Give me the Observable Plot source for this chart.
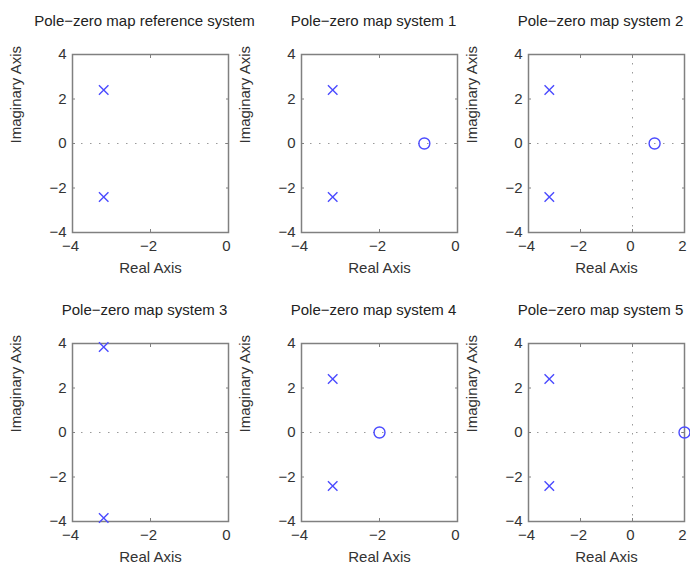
<!DOCTYPE html>
<html>
<head>
<meta charset="utf-8">
<script src="https://cdn.jsdelivr.net/npm/d3@7"></script>
<script src="https://cdn.jsdelivr.net/npm/@observablehq/plot@0.6"></script>
<style>
  body { margin: 0; background: #fff; }
  #wrap { position: relative; width: 690px; height: 567px; overflow: hidden; background: #fff; }
  #wrap svg { position: absolute; overflow: visible; background: transparent; }
</style>
</head>
<body>
<div id="wrap"></div>
<script>
// ---- data ----
const titles = [
  "Pole−zero map reference system",
  "Pole−zero map system 1",
  "Pole−zero map system 2",
  "Pole−zero map system 3",
  "Pole−zero map system 4",
  "Pole−zero map system 5"
];
const poleRe = [-3.2, -3.2, -3.2, -3.2, -3.2, -3.2];
const poleIm = [2.4, 2.4, 2.4, 3.84, 2.4, 2.4];   // conjugate pairs ±
const zeroRe = [null, -0.85, 0.85, null, -2, 2];
const xMin = [-4, -4, -4, -4, -4, -4];
const xMax = [0, 0, 2, 0, 0, 2];
const yTicks = [-4, -2, 0, 2, 4];
const xLabel = "Real Axis";
const yLabel = "Imaginary Axis";

// ---- layout ----
const colLeft = [0, 229, 456];
const colWidth = [230, 230, 234];
const rowTop = [0, 289];
const blue = "#4b4bff";
const gray = "#808080";
const font = "'Liberation Sans', Arial, Helvetica, sans-serif";
const fs = 15;

const wrap = document.getElementById("wrap");

titles.forEach((title, i) => {
  const col = i % 3, row = Math.floor(i / 3);
  const w = colWidth[col];
  const xTicks = d3.range(xMin[i], xMax[i] + 0.001, 2);
  const poles = [
    {re: poleRe[i], im: poleIm[i]},
    {re: poleRe[i], im: -poleIm[i]}
  ];
  const zeros = zeroRe[i] === null ? [] : [{re: zeroRe[i], im: 0}];
  const marks = [
    Plot.ruleY([0], {stroke: "#9a9a9a", strokeWidth: 1, strokeDasharray: "1.5,7.5"}),
    xMin[i] < 0 && xMax[i] > 0
      ? Plot.ruleX([0], {stroke: "#9a9a9a", strokeWidth: 1, strokeDasharray: "1.5,7.5"})
      : null,
    // inward tick marks on all four sides
    Plot.axisX(xTicks, {anchor: "bottom", tickSize: -3, text: null, stroke: gray, label: null}),
    Plot.axisX(xTicks, {anchor: "top", tickSize: -3, text: null, stroke: gray, label: null}),
    Plot.axisY(yTicks, {anchor: "left", tickSize: -3, text: null, stroke: gray, label: null}),
    Plot.axisY(yTicks, {anchor: "right", tickSize: -3, text: null, stroke: gray, label: null}),
    // tick labels
    Plot.axisX(xTicks, {anchor: "bottom", tickSize: 0, tickPadding: 8, dx: -2, fontSize: fs, fill: "#333", label: null}),
    Plot.axisY(yTicks, {anchor: "left", tickSize: 0, tickPadding: 6, fontSize: fs, fill: "#333", label: null}),
    Plot.frame({stroke: gray, strokeWidth: 1.5}),
    Plot.dot(poles, {x: "re", y: "im", symbol: "times", r: 4.4, stroke: blue, strokeWidth: 1.4}),
    Plot.dot(zeros, {x: "re", y: "im", symbol: "circle", r: 5.5, stroke: blue, strokeWidth: 1.4, fill: "none"}),
    Plot.text([title], {frameAnchor: "top", dy: -33, dx: -6, fontSize: fs, fill: "#222", lineAnchor: "middle"}),
    Plot.text([xLabel], {frameAnchor: "bottom", dy: 36, fontSize: fs, fill: "#333", lineAnchor: "middle"}),
    Plot.text([yLabel], {frameAnchor: "left", dx: -56, rotate: -90, fontSize: fs, fill: "#333", lineAnchor: "middle"})
  ].filter(Boolean);

  const svg = Plot.plot({
    width: w,
    height: 278,
    marginTop: 54,
    marginBottom: 46,
    marginLeft: 72,
    marginRight: w - 72 - 156,
    style: {fontFamily: font, fontSize: fs + "px", background: "transparent", overflow: "visible"},
    x: {domain: [xMin[i], xMax[i]]},
    y: {domain: [-4, 4]},
    marks
  });
  svg.style.left = colLeft[col] + "px";
  svg.style.top = rowTop[row] + "px";
  wrap.appendChild(svg);
});
</script>
</body>
</html>
